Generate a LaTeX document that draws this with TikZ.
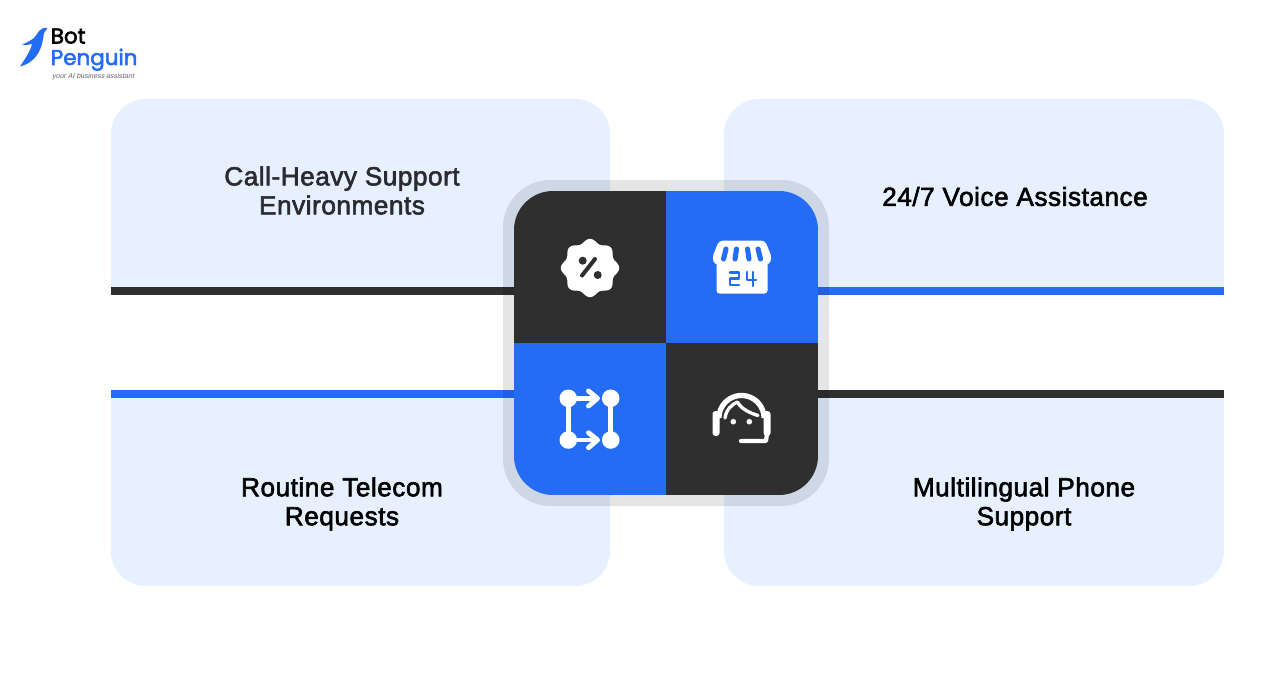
\documentclass[tikz,border=0pt]{standalone}
\usepackage{fontspec}
\setmainfont{Liberation Sans}[FakeBold=2.2,LetterSpace=2]
\newfontfamily\logofont{Poppins}[FakeBold=2.5]
\newfontfamily\tagfont{Liberation Sans}[FakeSlant=0.2]
\definecolor{panelblue}{HTML}{E6F0FF}
\definecolor{brandblue}{HTML}{246BF5}
\definecolor{darkcell}{HTML}{2F2F2F}
\definecolor{labelink}{HTML}{2A2A30}
\tikzset{
  panel/.style={fill=panelblue,draw=none},
  band/.style={line width=4.6pt},
  label/.style={align=center,text=labelink,font=\fontsize{14.9}{16.5}\selectfont,inner sep=0pt},
  iconline/.style={draw=white,line width=2.8pt,line cap=round,line join=round},
  bluegap/.style={draw=brandblue,line width=1.5pt,line cap=round,line join=round},
}
\begin{document}
\begin{tikzpicture}[x=0.02cm,y=-0.02cm]
\useasboundingbox (0,0) rectangle (1288,686);
\fill[white] (0,0) rectangle (1288,686);
% panels
\fill[panel] (111,291) [rounded corners=0.7cm] -- (111,99) -- (610,99) [sharp corners] -- (610,291) -- cycle;
\fill[panel] (724,291) [rounded corners=0.7cm] -- (724,99) -- (1224,99) [sharp corners] -- (1224,291) -- cycle;
\fill[panel] (111,394) [rounded corners=0.7cm] -- (111,586) -- (610,586) [sharp corners] -- (610,394) -- cycle;
\fill[panel] (724,394) [rounded corners=0.7cm] -- (724,586) -- (1224,586) [sharp corners] -- (1224,394) -- cycle;
% anchors
\coordinate (hub) at (666,343);
\coordinate (tlfree) at (111,291);\coordinate (tlhub) at (514,291);
\coordinate (trfree) at (1224,291);\coordinate (trhub) at (818,291);
\coordinate (blfree) at (111,394.3);\coordinate (blhub) at (514,394.3);
\coordinate (brfree) at (1224,394.3);\coordinate (brhub) at (818,394.3);
\draw[band,draw=darkcell] (tlfree) -- (tlhub);
\draw[band,draw=brandblue] (trfree) -- (trhub);
\draw[band,draw=brandblue] (blfree) -- (blhub);
\draw[band,draw=darkcell] (brfree) -- (brhub);
% ring
\fill[black,opacity=0.1,rounded corners=0.95cm] (503,180) rectangle (829,506);
% quadrants
\begin{scope}
\clip[rounded corners=0.78cm] (514,191) rectangle (818,495);
\fill[darkcell] (514,191) rectangle (666,343);
\fill[brandblue] (666,191) rectangle (818,343);
\fill[brandblue] (514,343) rectangle (666,495);
\fill[darkcell] (666,343) rectangle (818,495);
\end{scope}
% badge icon
\fill[white] plot[domain=0:360,samples=121,smooth] ({590+(27.2+2*cos(8*\x))*cos(\x)},{268+(27.2+2*cos(8*\x))*sin(\x)}) -- cycle;
\fill[darkcell] (582.7,260.7) circle[radius=4];
\fill[darkcell] (597.7,275) circle[radius=4];
\draw[darkcell,line width=2.3pt,line cap=round] (595,259) -- (582,275.5);
% store icon
\fill[white,rounded corners=0.06cm] (716.5,250) rectangle (767.5,293.5);
\fill[white,rounded corners=0.08cm] (719,240.5) -- (765,240.5) -- (772,258) -- (769,265) -- (715,265) -- (712,258) -- cycle;
\foreach \a/\b in {726/723.5,736.5/735,747.5/749,758/760.5}{
  \draw[draw=brandblue,line width=2.9pt,line cap=round] (\a,249) -- (\b,259);
}
\draw[bluegap] (730,272.5) -- (739,272.5) -- (739,278.5) -- (730,278.5) -- (730,285) -- (739,285);
\draw[bluegap] (747,272) -- (747,280) -- (756,280);
\draw[bluegap] (753,272) -- (753,286);
% route icon
\coordinate (ra) at (568.3,398.3);\coordinate (rb) at (610.7,398.3);
\coordinate (rc) at (568.3,440);\coordinate (rd) at (610.7,440);
\foreach \p in {ra,rb,rc,rd}{\fill[white] (\p) circle[radius=8.8];}
\draw[iconline] (ra) -- (rc);
\draw[iconline] (rb) -- (rd);
\draw[iconline] (ra) -- (597,398.3);
\draw[iconline] (rc) -- (597,440);
\draw[iconline] (588.5,391) -- (597.5,398.3) -- (588.5,406);
\draw[iconline] (588.5,432.7) -- (597.5,440) -- (588.5,447.7);
% headset icon
\draw[draw=white,line width=3pt] plot[domain=180:360,samples=50,smooth] ({741.5+22.5*cos(\x)},{418+22.5*sin(\x)});
\fill[white,rounded corners=0.06cm] (712.5,411) rectangle (719.5,436);
\fill[white,rounded corners=0.06cm] (763.5,411) rectangle (770.5,436);
\draw[iconline,line width=2.4pt] (767,434) -- (766,441) -- (741,441);
\draw[iconline,line width=1.9pt] (725,418) .. controls (726,410) and (732,404) .. (737.5,402) .. controls (741,409) and (750,413) .. (758,415.5);
\fill[white] (733.3,421.7) circle[radius=2.8];
\fill[white] (749.3,421.7) circle[radius=2.8];
% labels
\node[label] (calls) at (342,190.5) {Call-Heavy Support\\Environments};
\node[label,text=black] (voice) at (1015,196.5) {24/7 Voice Assistance};
\node[label,text=black] (routine) at (342,504) {Routine Telecom\\Requests};
\node[label,text=black] (multi) at (1024,504) {Multilingual Phone\\Support};
% logo
\fill[brandblue] (47.5,28) .. controls (44,27.5) and (41,28.5) .. (39,31) .. controls (37,34) and (36,36) .. (34,38) .. controls (30,41) and (26,43) .. (22,44.5) .. controls (25,45) and (29,45) .. (32,44) .. controls (31,50) and (25,59) .. (20,66.5) .. controls (26,65) and (32,62) .. (37,55) .. controls (42,48) and (43,40) .. (44,33) -- cycle;
\node[inner sep=0pt,anchor=base west,font=\logofont\fontsize{12.2}{12}\selectfont,text=black] (bot) at (50.5,43.5) {Bot};
\node[inner sep=0pt,anchor=base west,font=\logofont\fontsize{12.2}{12}\selectfont,text=brandblue] (pen) at (50.5,65) {Penguin};
\node[inner sep=0pt,anchor=base west,font=\tagfont\fontsize{4}{4}\selectfont,text=black!60] (tag) at (52,78.5) {your AI business assistant};
\end{tikzpicture}
\end{document}
